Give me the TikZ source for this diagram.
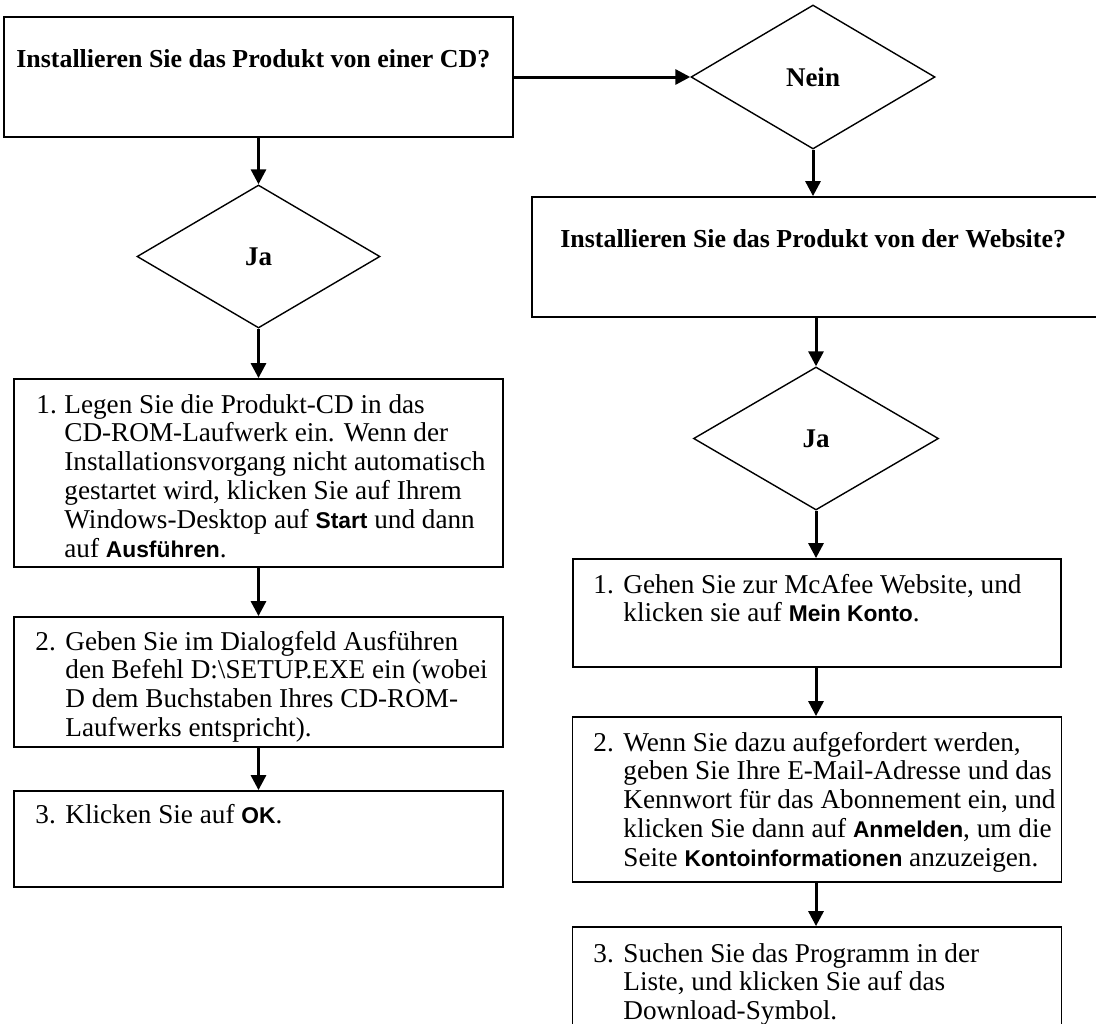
\documentclass[tikz,border=0pt]{standalone}
\usepackage{fontspec}
\setmainfont{Liberation Serif}
\setsansfont{Liberation Sans}
\usetikzlibrary{arrows.meta,shapes.geometric}
\newcommand\bsf[1]{{\sffamily\bfseries\fontsize{11.4}{14.4}\selectfont #1}}
\tikzset{
  boxst/.style={draw, line width=0.9pt, rectangle, inner sep=0pt},
  decst/.style={draw, line width=0.7pt, diamond, inner sep=0pt, font=\fontsize{13.5}{14.4}\selectfont\bfseries},
  txtst/.style={anchor=base west, inner sep=0pt, align=left, font=\fontsize{13.6}{14.4}\selectfont},
  ttlst/.style={anchor=base west, inner sep=0pt, font=\fontsize{12.95}{14.4}\selectfont\bfseries},
  arr/.style={line width=1.5pt, -{Triangle[width=7.5pt,length=7.5pt]}},
}
\newcommand\itembox[3]{\makebox[#1][l]{#2}\parbox[t]{250pt}{#3}}
\begin{document}
\begin{tikzpicture}[x=0.5pt,y=-0.5pt]
\useasboundingbox (0,0) rectangle (1096,1023);
% left column boxes
\node[boxst, minimum width=254.5pt, minimum height=60pt] (A) at (258.5,77) {};
\node[decst, minimum width=121.5pt, minimum height=71.5pt] (dL) at (258.5,256.5) {Ja};
\node[boxst, minimum width=244.5pt, minimum height=94pt] (L1) at (258.5,473) {};
\node[boxst, minimum width=244.5pt, minimum height=65pt] (L2) at (258.5,682) {};
\node[boxst, minimum width=244.5pt, minimum height=48pt] (L3) at (258.5,839) {};
% right column
\node[decst, minimum width=122pt, minimum height=72pt] (Nein) at (813,77) {Nein};
\node[boxst, minimum width=289pt, minimum height=60pt] (B) at (821,257) {};
\node[decst, minimum width=122.5pt, minimum height=71.5pt] (dR) at (816,438.5) {Ja};
\node[boxst, minimum width=244pt, minimum height=54pt] (R1) at (817,613) {};
\node[boxst, minimum width=244.5pt, minimum height=82.5pt] (R2) at (817,799.5) {};
\node[boxst, minimum width=244.5pt, minimum height=56.5pt] (R3) at (817,983.5) {};
% texts
\node[ttlst] (tA) at (16,67) {Installieren Sie das Produkt von einer CD?};
\node[ttlst] (tB) at (560,247) {Installieren Sie das Produkt von der Website?};
\node[txtst] (tL1) at (36,413) {\itembox{14pt}{1.}{Legen Sie die Produkt-CD in das\\
CD-ROM-Laufwerk ein. Wenn der\\
Installationsvorgang nicht automatisch\\
gestartet wird, klicken Sie auf Ihrem\\
Windows-Desktop auf \bsf{Start} und dann\\
auf \bsf{Ausführen}.}};
\node[txtst] (tL2) at (35,650) {\itembox{15pt}{2.}{Geben Sie im Dialogfeld Ausführen\\
den Befehl D:\textbackslash SETUP.EXE ein (wobei\\
D dem Buchstaben Ihres CD-ROM-\\
Laufwerks entspricht).}};
\node[txtst] (tL3) at (35,823) {\itembox{15pt}{3.}{Klicken Sie auf \bsf{OK}.}};
\node[txtst] (tR1) at (593,593) {\itembox{15pt}{1.}{Gehen Sie zur McAfee Website, und\\
klicken sie auf \bsf{Mein Konto}.}};
\node[txtst] (tR2) at (593,751) {\itembox{15pt}{2.}{Wenn Sie dazu aufgefordert werden,\\
geben Sie Ihre E-Mail-Adresse und das\\
Kennwort für das Abonnement ein, und\\
klicken Sie dann auf \bsf{Anmelden}, um die\\
Seite \bsf{Kontoinformationen} anzuzeigen.}};
\node[txtst] (tR3) at (593,962) {\itembox{15pt}{3.}{Suchen Sie das Programm in der\\
Liste, und klicken Sie auf das\\
Download-Symbol.}};
% connectors
\draw[arr] (A.south) -- (dL.north);
\draw[arr] (dL.south) -- (L1.north);
\draw[arr] (L1.south) -- (L2.north);
\draw[arr] (L2.south) -- (L3.north);
\draw[arr] (A.east) -- (Nein.west);
\draw[arr] (Nein.south) -- (Nein.south |- B.north);
\draw[arr] (dR.north |- B.south) -- (dR.north);
\draw[arr] (dR.south) -- (dR.south |- R1.north);
\draw[arr] (dR.south |- R1.south) -- (dR.south |- R2.north);
\draw[arr] (dR.south |- R2.south) -- (dR.south |- R3.north);
\end{tikzpicture}
\end{document}
